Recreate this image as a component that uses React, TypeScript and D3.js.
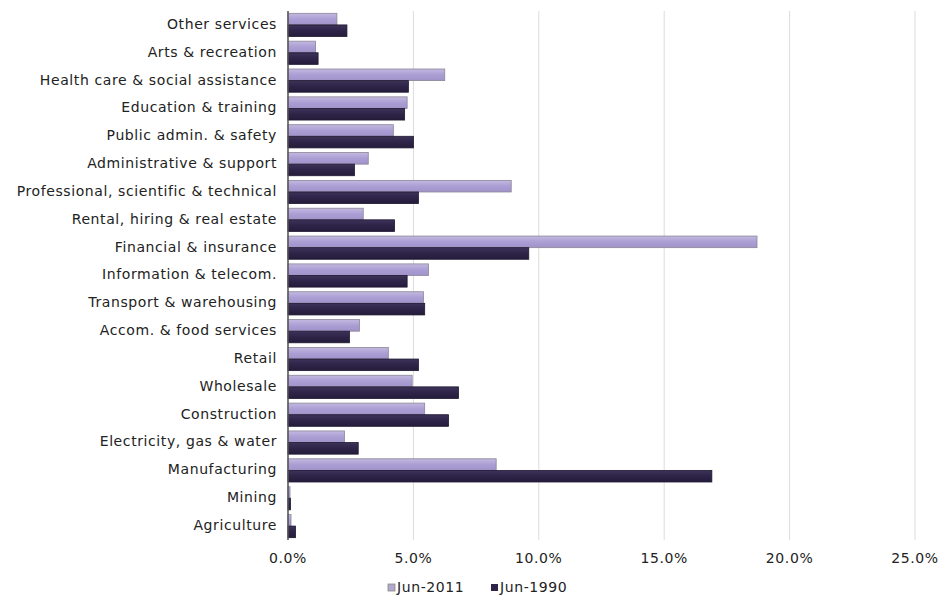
import React from "react";
import * as d3 from "d3";

const categories = [
  "Other services",
  "Arts & recreation",
  "Health care & social assistance",
  "Education & training",
  "Public admin. & safety",
  "Administrative & support ",
  "Professional, scientific & technical",
  "Rental, hiring & real estate",
  "Financial & insurance ",
  "Information & telecom.",
  "Transport & warehousing",
  "Accom. & food services",
  "Retail",
  "Wholesale",
  "Construction",
  "Electricity, gas & water",
  "Manufacturing",
  "Mining",
  "Agriculture",
];

const jun2011 = [1.95, 1.1, 6.25, 4.75, 4.2, 3.2, 8.9, 3.0, 18.7, 5.6, 5.4, 2.85, 4.0, 4.95, 5.45, 2.25, 8.3, 0.08, 0.12];
const jun1990 = [2.35, 1.2, 4.8, 4.65, 5.0, 2.65, 5.2, 4.25, 9.6, 4.75, 5.45, 2.45, 5.2, 6.8, 6.4, 2.8, 16.9, 0.1, 0.3];

const seriesNames = ["Jun-2011", "Jun-1990"];
const xTicks = [0, 5, 10, 15, 20, 25];

const W = 944;
const H = 600;
const left = 288;
const right = 915;
const top = 11;
const bottom = 540;

export default function App() {
  const x = d3.scaleLinear().domain([0, 25]).range([left, right]);
  const y = d3.scaleBand<string>().domain(categories).range([top, bottom]).paddingInner(0).paddingOuter(0);
  const inner = d3.scaleBand<string>().domain(seriesNames).range([0, y.bandwidth()]).paddingInner(0).paddingOuter(0.2);
  const font = "'DejaVu Sans', Verdana, sans-serif";
  const colors = ["url(#gLight)", "url(#gDark)"];
  const strokes = ["#8a8596", "#1e1830"];
  const data = [jun2011, jun1990];
  const ls = 0.6;

  return (
    <svg width={W} height={H} style={{ position: "absolute", left: 0, top: 0, background: "#fff" }}>
      <defs>
        <linearGradient id="gLight" x1="0" y1="0" x2="0" y2="1">
          <stop offset="0" stopColor="#c3b9e0" />
          <stop offset="0.5" stopColor="#ab9ed4" />
          <stop offset="1" stopColor="#a093c9" />
        </linearGradient>
        <linearGradient id="gDark" x1="0" y1="0" x2="0" y2="1">
          <stop offset="0" stopColor="#3d3259" />
          <stop offset="0.5" stopColor="#2e2448" />
          <stop offset="1" stopColor="#251c3b" />
        </linearGradient>
      </defs>
      {xTicks.map((t) => (
        <line key={"g" + t} x1={x(t)} x2={x(t)} y1={top} y2={bottom} stroke="#dcdcdc" strokeWidth={1} />
      ))}
      {categories.map((c, i) => (
        <g key={c}>
          {data.map((s, k) => {
            const yy = (y(c) as number) + (inner(seriesNames[k]) as number);
            return (
              <rect
                key={k}
                x={x(0)}
                y={yy}
                width={Math.max(1, x(s[i]) - x(0))}
                height={inner.bandwidth()}
                fill={colors[k]}
                stroke={strokes[k]}
                strokeWidth={0.8}
              />
            );
          })}
          <text
            x={left - 11}
            y={(y(c) as number) + y.bandwidth() / 2 - 1}
            dy="0.35em"
            textAnchor="end"
            fontFamily={font}
            fontSize={14}
            letterSpacing={ls}
            fill="#222"
          >
            {c}
          </text>
        </g>
      ))}
      <line x1={left} x2={left} y1={top} y2={bottom} stroke="#555" strokeWidth={1.5} />
      {xTicks.map((t) => (
        <text key={"t" + t} x={x(t)} y={563} textAnchor="middle" fontFamily={font} fontSize={14} letterSpacing={ls} fill="#222">
          {t.toFixed(1) + "%"}
        </text>
      ))}
      <g fontFamily={font} fontSize={14} letterSpacing={ls} fill="#222">
        <rect x={388} y={584} width={7} height={7} fill="#b3a9cf" stroke="#888" strokeWidth={0.8} />
        <text x={397} y={592}>Jun-2011</text>
        <rect x={491} y={584} width={7} height={7} fill="#2e2448" />
        <text x={500} y={592}>Jun-1990</text>
      </g>
    </svg>
  );
}
